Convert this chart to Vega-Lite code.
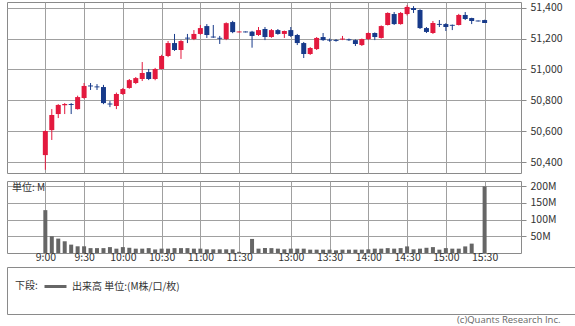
{
  "$schema": "https://vega.github.io/schema/vega-lite/v6.json",
  "padding": {"left": 3, "top": 1, "right": 0, "bottom": 0},
  "config": {
    "font": "Noto Sans CJK JP",
    "view": {"stroke": "#8a8a8a"},
    "axis": {"labelFont": "Noto Sans CJK JP", "labelFontSize": 10.5, "labelColor": "#333333", "gridColor": "#a0a0a0", "gridOpacity": 1, "tickColor": "#8a8a8a", "domain": false, "title": null, "labelOverlap": false}
  },
  "datasets": {
    "candles": [
      {"i":0,"t":"9:00","open":50445,"high":50605,"low":50350,"close":50601,"vol":128},
      {"i":1,"t":"9:05","open":50607,"high":50743,"low":50543,"close":50705,"vol":50},
      {"i":2,"t":"9:10","open":50711,"high":50775,"low":50685,"close":50770,"vol":43},
      {"i":3,"t":"9:15","open":50768,"high":50782,"low":50711,"close":50776,"vol":35},
      {"i":4,"t":"9:20","open":50776,"high":50782,"low":50711,"close":50770,"vol":25},
      {"i":5,"t":"9:25","open":50743,"high":50830,"low":50740,"close":50821,"vol":20},
      {"i":6,"t":"9:30","open":50815,"high":50912,"low":50810,"close":50893,"vol":20},
      {"i":7,"t":"9:35","open":50896,"high":50912,"low":50867,"close":50890,"vol":14.6},
      {"i":8,"t":"9:40","open":50890,"high":50905,"low":50867,"close":50884,"vol":14.6},
      {"i":9,"t":"9:45","open":50886,"high":50900,"low":50775,"close":50782,"vol":14.6},
      {"i":10,"t":"9:50","open":50779,"high":50795,"low":50756,"close":50773,"vol":17.6},
      {"i":11,"t":"9:55","open":50763,"high":50850,"low":50743,"close":50841,"vol":13},
      {"i":12,"t":"10:00","open":50841,"high":50880,"low":50835,"close":50873,"vol":17.6},
      {"i":13,"t":"10:05","open":50880,"high":50938,"low":50875,"close":50931,"vol":15.6},
      {"i":14,"t":"10:10","open":50912,"high":50951,"low":50905,"close":50944,"vol":13},
      {"i":15,"t":"10:15","open":50938,"high":51048,"low":50925,"close":50977,"vol":13},
      {"i":16,"t":"10:20","open":50983,"high":51003,"low":50931,"close":50938,"vol":14.6},
      {"i":17,"t":"10:25","open":50938,"high":51010,"low":50930,"close":51003,"vol":10.6},
      {"i":18,"t":"10:30","open":51003,"high":51095,"low":51000,"close":51087,"vol":13},
      {"i":19,"t":"10:35","open":51087,"high":51184,"low":51080,"close":51171,"vol":13},
      {"i":20,"t":"10:40","open":51171,"high":51230,"low":51120,"close":51126,"vol":14.6},
      {"i":21,"t":"10:45","open":51126,"high":51190,"low":51068,"close":51184,"vol":14.6},
      {"i":22,"t":"10:50","open":51206,"high":51230,"low":51171,"close":51200,"vol":14.6},
      {"i":23,"t":"10:55","open":51197,"high":51255,"low":51190,"close":51230,"vol":13},
      {"i":24,"t":"11:00","open":51230,"high":51288,"low":51225,"close":51268,"vol":13},
      {"i":25,"t":"11:05","open":51281,"high":51294,"low":51204,"close":51223,"vol":11},
      {"i":26,"t":"11:10","open":51213,"high":51288,"low":51205,"close":51207,"vol":11},
      {"i":27,"t":"11:15","open":51205,"high":51217,"low":51165,"close":51199,"vol":11},
      {"i":28,"t":"11:20","open":51197,"high":51305,"low":51190,"close":51300,"vol":11},
      {"i":29,"t":"11:25","open":51307,"high":51315,"low":51235,"close":51242,"vol":11},
      {"i":30,"t":"11:30","open":51240,"high":51246,"low":51240,"close":51246,"vol":3.5},
      {"i":31,"t":"12:25","open":51246,"high":51246,"low":51240,"close":51240,"vol":0},
      {"i":32,"t":"12:30","open":51245,"high":51250,"low":51141,"close":51217,"vol":42},
      {"i":33,"t":"12:35","open":51223,"high":51275,"low":51217,"close":51255,"vol":13},
      {"i":34,"t":"12:40","open":51262,"high":51275,"low":51190,"close":51210,"vol":14.6},
      {"i":35,"t":"12:45","open":51210,"high":51262,"low":51205,"close":51255,"vol":14.6},
      {"i":36,"t":"12:50","open":51255,"high":51262,"low":51225,"close":51230,"vol":13},
      {"i":37,"t":"12:55","open":51230,"high":51252,"low":51204,"close":51249,"vol":11},
      {"i":38,"t":"13:00","open":51255,"high":51275,"low":51210,"close":51217,"vol":13},
      {"i":39,"t":"13:05","open":51223,"high":51230,"low":51158,"close":51171,"vol":13},
      {"i":40,"t":"13:10","open":51171,"high":51178,"low":51074,"close":51100,"vol":13},
      {"i":41,"t":"13:15","open":51100,"high":51145,"low":51094,"close":51139,"vol":10},
      {"i":42,"t":"13:20","open":51132,"high":51210,"low":51126,"close":51204,"vol":10},
      {"i":43,"t":"13:25","open":51210,"high":51236,"low":51185,"close":51190,"vol":10},
      {"i":44,"t":"13:30","open":51193,"high":51200,"low":51180,"close":51187,"vol":10},
      {"i":45,"t":"13:35","open":51191,"high":51197,"low":51180,"close":51185,"vol":8},
      {"i":46,"t":"13:40","open":51194,"high":51217,"low":51190,"close":51200,"vol":10},
      {"i":47,"t":"13:45","open":51195,"high":51200,"low":51185,"close":51189,"vol":10},
      {"i":48,"t":"13:50","open":51190,"high":51195,"low":51152,"close":51165,"vol":10},
      {"i":49,"t":"13:55","open":51158,"high":51200,"low":51152,"close":51197,"vol":10},
      {"i":50,"t":"14:00","open":51197,"high":51240,"low":51190,"close":51236,"vol":11},
      {"i":51,"t":"14:05","open":51236,"high":51240,"low":51190,"close":51210,"vol":13},
      {"i":52,"t":"14:10","open":51204,"high":51285,"low":51200,"close":51281,"vol":13},
      {"i":53,"t":"14:15","open":51288,"high":51370,"low":51285,"close":51366,"vol":14.6},
      {"i":54,"t":"14:20","open":51359,"high":51372,"low":51288,"close":51294,"vol":13},
      {"i":55,"t":"14:25","open":51294,"high":51372,"low":51290,"close":51366,"vol":14.6},
      {"i":56,"t":"14:30","open":51359,"high":51417,"low":51350,"close":51405,"vol":19.7},
      {"i":57,"t":"14:35","open":51398,"high":51410,"low":51366,"close":51385,"vol":11},
      {"i":58,"t":"14:40","open":51385,"high":51390,"low":51262,"close":51268,"vol":13},
      {"i":59,"t":"14:45","open":51268,"high":51275,"low":51236,"close":51243,"vol":15.6},
      {"i":60,"t":"14:50","open":51236,"high":51314,"low":51230,"close":51301,"vol":17.6},
      {"i":61,"t":"14:55","open":51295,"high":51320,"low":51275,"close":51289,"vol":10},
      {"i":62,"t":"15:00","open":51294,"high":51300,"low":51249,"close":51275,"vol":14.6},
      {"i":63,"t":"15:05","open":51289,"high":51291,"low":51255,"close":51283,"vol":13},
      {"i":64,"t":"15:10","open":51288,"high":51360,"low":51285,"close":51353,"vol":13},
      {"i":65,"t":"15:15","open":51353,"high":51372,"low":51320,"close":51327,"vol":19.7},
      {"i":66,"t":"15:20","open":51333,"high":51335,"low":51294,"close":51314,"vol":28},
      {"i":67,"t":"15:25","open":51317,"high":51317,"low":51311,"close":51311,"vol":0},
      {"i":68,"t":"15:30","open":51320,"high":51322,"low":51301,"close":51301,"vol":199}
    ]
  },
  "title": {"text": "(c)Quants Research Inc.", "orient": "bottom", "anchor": "end", "offset": 0, "dx": -16, "fontSize": 9.5, "fontWeight": "normal", "color": "#666666", "font": "Open Sans"},
  "spacing": 0,
  "vconcat": [
    {
      "spacing": 6,
      "vconcat": [
        {
          "width": 514,
          "height": 171,
          "data": {"name": "candles"},
          "encoding": {
            "x": {"field": "i", "type": "quantitative", "scale": {"domain": [-5.16, 72.86], "nice": false, "zero": false},
                  "axis": {"values": [0,6,12,18,24,30,38,44,50,56,62,68], "labels": false, "ticks": false, "grid": true}},
            "color": {"condition": {"test": "datum.close > datum.open", "value": "#e3193e"}, "value": "#173a8a"}
          },
          "layer": [
            {
              "mark": {"type": "rule", "strokeWidth": 1},
              "encoding": {
                "y": {"field": "low", "type": "quantitative", "scale": {"domain": [50329, 51437], "nice": false, "zero": false},
                      "axis": {"orient": "right", "values": [50400,50600,50800,51000,51200,51400], "format": ",d", "tickSize": 5, "labelPadding": 4, "grid": true}},
                "y2": {"field": "high"}
              }
            },
            {
              "mark": {"type": "bar", "size": 5},
              "encoding": {
                "y": {"field": "open", "type": "quantitative", "scale": {"domain": [50329, 51437], "nice": false, "zero": false},
                      "axis": {"orient": "right", "values": [50400,50600,50800,51000,51200,51400], "format": ",d", "tickSize": 5, "labelPadding": 4, "grid": true}},
                "y2": {"field": "close"}
              }
            }
          ]
        },
        {
          "width": 514,
          "height": 72,
          "title": {"text": "単位: M", "anchor": "start", "orient": "top", "offset": -12, "dx": 5, "fontSize": 10, "fontWeight": "normal", "color": "#333333", "font": "Noto Sans CJK JP"},
          "data": {"name": "candles"},
          "mark": {"type": "bar", "size": 4, "color": "#666666"},
          "encoding": {
            "x": {"field": "i", "type": "quantitative", "scale": {"domain": [-5.16, 72.86], "nice": false, "zero": false},
                  "axis": {"values": [0,6,12,18,24,30,38,44,50,56,62,68], "labelExpr": "['9:00','9:30','10:00','10:30','11:00','11:30','13:00','13:30','14:00','14:30','15:00','15:30'][indexof([0,6,12,18,24,30,38,44,50,56,62,68], datum.value)]", "ticks": false, "labelPadding": -1, "grid": true}},
            "y": {"field": "vol", "type": "quantitative", "scale": {"domain": [0, 215], "nice": false},
                  "axis": {"orient": "right", "values": [50,100,150,200], "labelExpr": "datum.value + 'M'", "tickSize": 5, "labelPadding": 4, "grid": true}}
          }
        }
      ]
    },
    {
      "width": 569,
      "height": 47,
      "data": {"values": [{"series": "出来高 単位:(M株/口/枚)"}]},
      "mark": {"type": "point", "opacity": 0},
      "encoding": {
        "x": {"datum": 0, "type": "quantitative", "axis": null},
        "y": {"datum": 0, "type": "quantitative", "axis": null},
        "color": {"field": "series", "type": "nominal", "scale": {"range": ["#666666"]},
                  "legend": {"title": ["", "下段:"], "titleLineHeight": 5, "orient": "none", "legendX": 8, "legendY": 272, "titleOrient": "left", "direction": "horizontal",
                             "symbolType": "stroke", "symbolStrokeWidth": 3, "symbolSize": 484, "symbolOpacity": 1, "symbolStrokeColor": "#666666",
                             "labelFontSize": 10, "titleFontSize": 10, "titleFontWeight": "normal", "titlePadding": 5, "labelFont": "Noto Sans CJK JP", "titleFont": "Noto Sans CJK JP", "labelColor": "#333333", "titleColor": "#333333"}}
      }
    }
  ]
}
